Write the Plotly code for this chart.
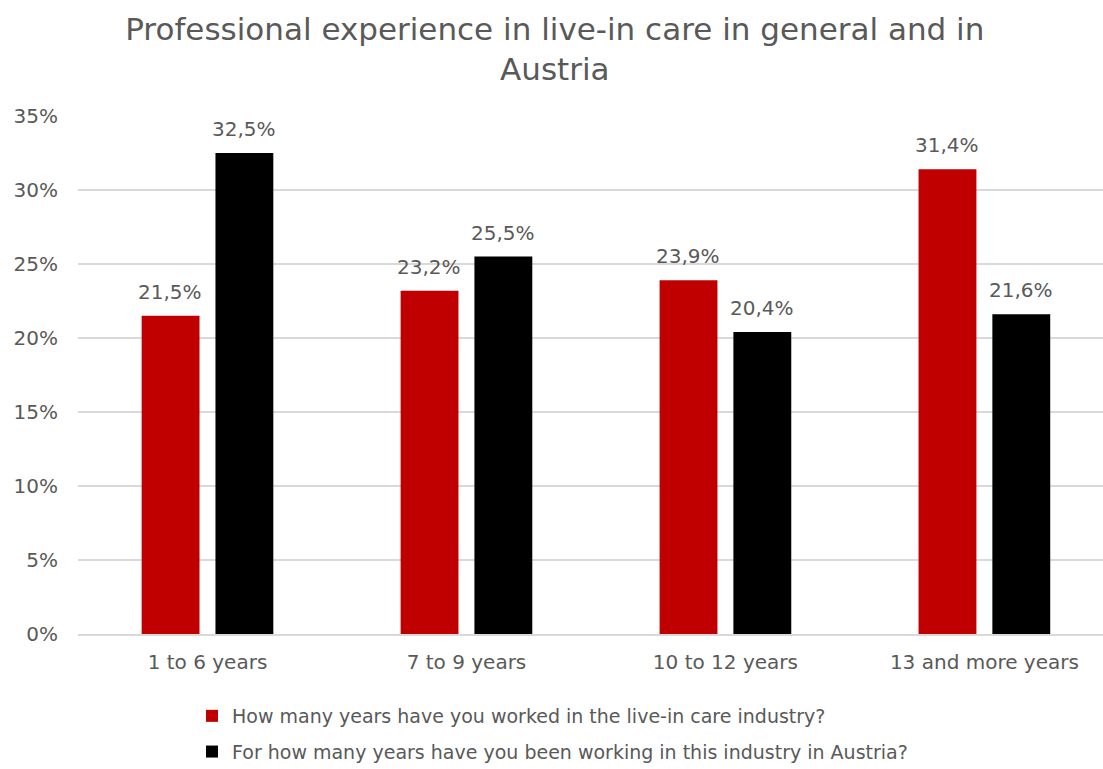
import plotly.graph_objects as go

# Experience bands and share of respondents (%)
categories = ["1 to 6 years", "7 to 9 years", "10 to 12 years", "13 and more years"]
series_names = [
    "How many years have you worked in the live-in care industry?",
    "For how many years have you been working in this industry in Austria?",
]
years_in_care = [21.5, 23.2, 23.9, 31.4]
years_in_austria = [32.5, 25.5, 20.4, 21.6]
y_ticks = [0, 5, 10, 15, 20, 25, 30, 35]
y_tick_labels = ["0%", "5%", "10%", "15%", "20%", "25%", "30%", "35%"]

TEXT = "#595959"
FONT = "DejaVu Sans"
colors = ["#C00000", "#000000"]

fig = go.Figure()
for i, (name, vals) in enumerate(zip(series_names, [years_in_care, years_in_austria])):
    fig.add_trace(go.Bar(
        x=categories, y=vals, name=name,
        marker=dict(color=colors[i], line=dict(width=0)),
        legendgroup=f"g{i}",
        hoverinfo="skip",
    ))

# Value labels above each bar
for i, vals in enumerate([years_in_care, years_in_austria]):
    shift = -37 if i == 0 else 37
    for cat, v in zip(categories, vals):
        fig.add_annotation(
            x=cat, y=v, text=f"{v:.1f}%".replace(".", ","),
            xshift=shift, yshift=24, yanchor="middle", showarrow=False,
            font=dict(family=FONT, size=20, color=TEXT),
        )

fig.update_layout(
    width=1103, height=769,
    margin=dict(l=78, r=0, t=116, b=135, autoexpand=False),
    paper_bgcolor="white", plot_bgcolor="white",
    bargap=0.43, bargroupgap=0.216,
    title=dict(
        text="Professional experience in live-in care in general and in<br>Austria",
        x=0.503, xanchor="center", xref="container",
        y=1 - 40 / 769, yanchor="middle", yref="container",
        font=dict(family=FONT, size=31, color=TEXT),
    ),
    font=dict(family=FONT, color=TEXT),
    showlegend=True,
    legend=dict(
        orientation="v", x=192 / 1103, xref="container", xanchor="left",
        y=1 - 697 / 769, yref="container", yanchor="top",
        font=dict(family=FONT, size=19, color=TEXT),
        tracegroupgap=8, bgcolor="rgba(0,0,0,0)",
    ),
    xaxis=dict(
        range=[-0.5, 3.458], showgrid=False, showline=True,
        linecolor="#D9D9D9", linewidth=2, ticks="",
        tickfont=dict(family=FONT, size=20, color=TEXT),
        ticklabelstandoff=9, tickangle=0, automargin=False,
    ),
    yaxis=dict(
        range=[0, 35], tickvals=y_ticks, ticktext=y_tick_labels,
        showgrid=True, gridcolor="#D9D9D9", gridwidth=2,
        zeroline=False, showline=False, ticks="",
        tickfont=dict(family=FONT, size=20, color=TEXT),
        ticklabelstandoff=19, automargin=False,
    ),
)

fig.write_html("out.html")
